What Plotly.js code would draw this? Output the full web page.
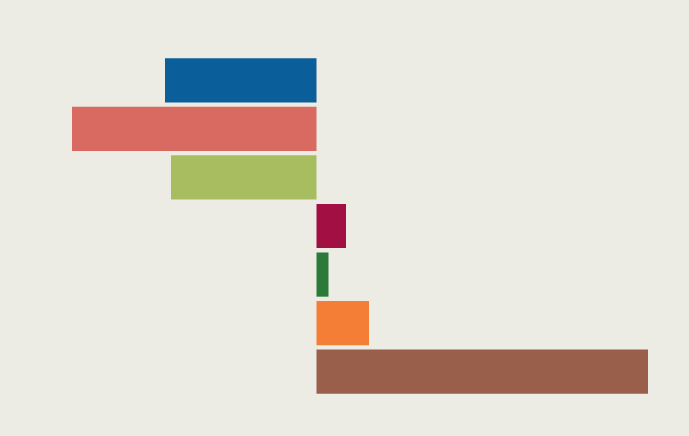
<!DOCTYPE html>
<html>
<head>
<meta charset="utf-8">
<script src="https://cdn.plot.ly/plotly-3.0.1.min.js"></script>
<style>
  html, body { margin: 0; padding: 0; background: #edece4; }
  #chart { width: 689px; height: 436px; }
</style>
</head>
<body>
<div id="chart"></div>
<script>
// one bar per category, top to bottom
const categories = ['A', 'B', 'C', 'D', 'E', 'F', 'G'];
const values = [-15.15, -24.45, -14.55, 2.95, 1.2, 5.25, 33.15];
const barColors = ['#0a5e99', '#d86a61', '#a8bd5f', '#a10f43', '#2c7a39', '#f47e36', '#9a5f4a'];

const trace = {
    type: 'bar',
    orientation: 'h',
    x: values,
    y: categories,
    marker: { color: barColors, line: { width: 0 } },
    hoverinfo: 'none'
};

const layout = {
    width: 689,
    height: 436,
    margin: { l: 0, r: 0, t: 56, b: 40 },
    paper_bgcolor: '#edece4',
    plot_bgcolor: '#edece4',
    showlegend: false,
    bargap: 0.09,
    xaxis: {
        range: [-31.65, 37.25],
        visible: false,
        showgrid: false,
        zeroline: false
    },
    yaxis: {
        autorange: 'reversed',
        visible: false,
        showgrid: false,
        zeroline: false
    }
};

Plotly.newPlot('chart', [trace], layout, { displayModeBar: false, staticPlot: true });
</script>
</body>
</html>
